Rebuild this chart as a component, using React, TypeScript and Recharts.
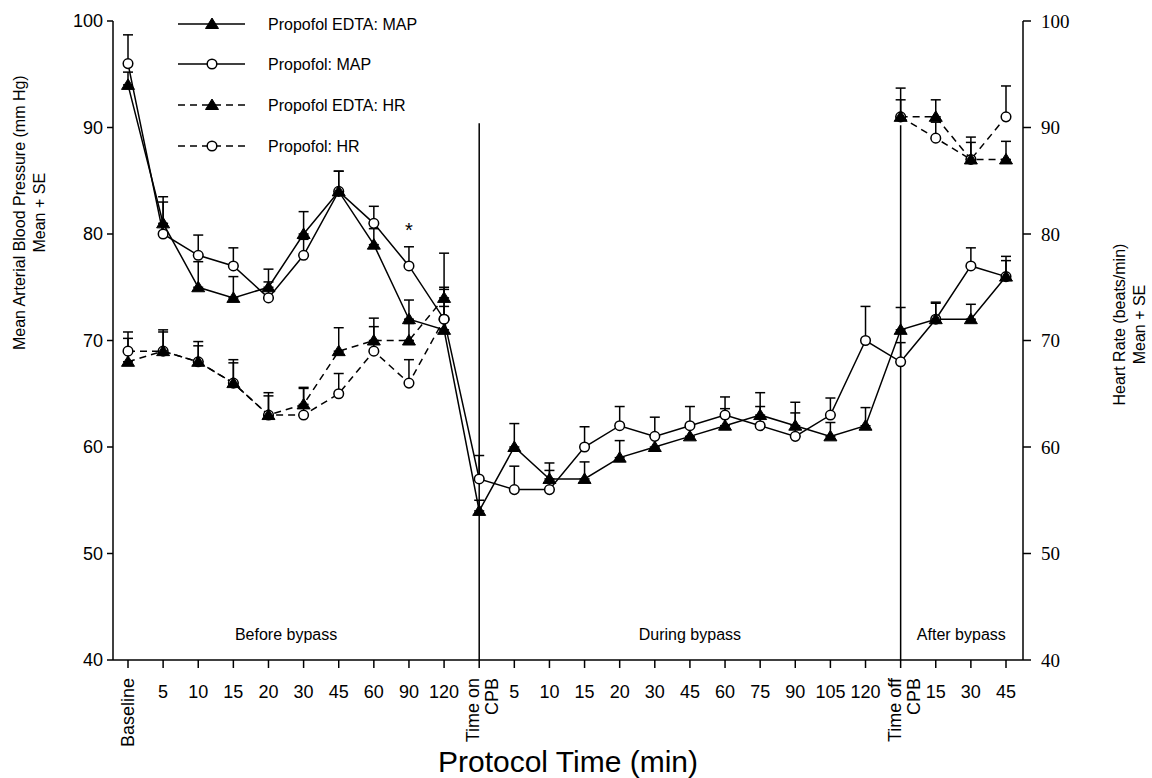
import React from 'react';
import {
  LineChart, Line, XAxis, YAxis, ErrorBar, ReferenceLine, ReferenceArea, Legend, LabelList,
} from 'recharts';

// ---- categories / tick labels ----
const categoryKeys = [
  'Baseline', 'b5', 'b10', 'b15', 'b20', 'b30', 'b45', 'b60', 'b90', 'b120',
  'TimeOn', 'd5', 'd10', 'd15', 'd20', 'd30', 'd45', 'd60', 'd75', 'd90', 'd105', 'd120',
  'TimeOff', 'a15', 'a30', 'a45',
];
const tickLabels = [
  'Baseline', '5', '10', '15', '20', '30', '45', '60', '90', '120',
  'Time on|CPB', '5', '10', '15', '20', '30', '45', '60', '75', '90', '105', '120',
  'Time off|CPB', '15', '30', '45',
];
const yTicks = [40, 50, 60, 70, 80, 90, 100];

// ---- series values (mean) and SE ----
const edtaMap = [94, 81, 75, 74, 75, 80, 84, 79, 72, 71, 54, 60, 57, 57, 59, 60, 61, 62, 63, 62, 61, 62, 71, 72, 72, 76];
const edtaMapSe = [1.2, 2.5, 2.4, 2.0, 1.7, 2.1, 1.9, 1.5, 1.8, 4.0, 1.0, 2.2, 1.5, 1.6, 1.6, 1.0, 1.0, 1.6, 2.1, 2.2, 1.3, 1.7, 2.1, 1.6, 1.4, 1.5];
const propMap = [96, 80, 78, 77, 74, 78, 84, 81, 77, 72, 57, 56, 56, 60, 62, 61, 62, 63, 62, 61, 63, 70, 68, 72, 77, 76];
const propMapSe = [2.7, 3.0, 1.9, 1.7, 1.5, 1.5, 1.9, 1.6, 1.8, 2.8, 2.2, 2.2, 1.8, 1.9, 1.8, 1.8, 1.8, 1.7, 1.8, 2.2, 1.6, 3.2, 1.8, 1.5, 1.7, 1.9];
const edtaHr = [68, 69, 68, 66, 63, 64, 69, 70, 70, 74, null, null, null, null, null, null, null, null, null, null, null, null, 91, 91, 87, 87];
const edtaHrSe = [2.2, 2.0, 1.9, 2.2, 2.1, 1.5, 2.2, 2.1, 1.6, 4.2, null, null, null, null, null, null, null, null, null, null, null, null, 2.7, 1.6, 2.1, 1.7];
const propHr = [69, 69, 68, 66, 63, 63, 65, 69, 66, 72, null, null, null, null, null, null, null, null, null, null, null, null, 91, 89, 87, 91];
const propHrSe = [1.8, 1.8, 1.5, 1.9, 1.8, 2.6, 1.9, 2.3, 2.2, 1.2, null, null, null, null, null, null, null, null, null, null, null, null, 1.6, 1.5, 1.6, 2.9];
const propMapSig = ['', '', '', '', '', '', '', '', '*', '', '', '', '', '', '', '', '', '', '', '', '', '', '', '', '', ''];

const seriesNames = ['Propofol EDTA: MAP', 'Propofol: MAP', 'Propofol EDTA: HR', 'Propofol: HR'];
const phaseLabels = ['Before bypass', 'During bypass', 'After bypass'];

const errPair = (se: number | null) => (se == null ? null : [0, se]);

const data = categoryKeys.map((key, i) => ({
  key,
  edtaMap: edtaMap[i],
  edtaMapErr: errPair(edtaMapSe[i]),
  propMap: propMap[i],
  propMapErr: errPair(propMapSe[i]),
  edtaHr: edtaHr[i],
  edtaHrErr: errPair(edtaHrSe[i]),
  propHr: propHr[i],
  propHrErr: errPair(propHrSe[i]),
  sig: propMapSig[i],
}));

const SANS = 'Arial, "Liberation Sans", Helvetica, sans-serif';
const SERIF = '"Times New Roman", "Liberation Serif", Times, serif';
const INK = '#000';

const Triangle = (props: any) => {
  const { cx, cy } = props;
  if (cx == null || cy == null || props.value == null) return null;
  return (
    <polygon
      points={`${cx},${cy - 6} ${cx + 6.5},${cy + 4.5} ${cx - 6.5},${cy + 4.5}`}
      fill={INK}
      stroke={INK}
      strokeWidth={1}
    />
  );
};

const Circle = (props: any) => {
  const { cx, cy } = props;
  if (cx == null || cy == null || props.value == null) return null;
  return <circle cx={cx} cy={cy} r={4.8} fill="#fff" stroke={INK} strokeWidth={1.5} />;
};

const XTick = (props: any) => {
  const { x, y, index } = props;
  const label = tickLabels[index] ?? '';
  if (label === 'Baseline') {
    const ty = y + 8;
    return (
      <text x={x} y={ty} transform={`rotate(-90, ${x}, ${ty})`} textAnchor="end"
        dominantBaseline="central" fontFamily={SANS} fontSize={18} fill={INK}>
        {label}
      </text>
    );
  }
  if (label.includes('|')) {
    const [l1, l2] = label.split('|');
    const ty = y + 8;
    return (
      <g>
        <text x={x - 6} y={ty} transform={`rotate(-90, ${x - 6}, ${ty})`} textAnchor="end"
          dominantBaseline="central" fontFamily={SANS} fontSize={18} fill={INK}>{l1}</text>
        <text x={x + 13} y={ty} transform={`rotate(-90, ${x + 13}, ${ty})`} textAnchor="end"
          dominantBaseline="central" fontFamily={SANS} fontSize={18} fill={INK}>{l2}</text>
      </g>
    );
  }
  return (
    <text x={x} y={y + 22} textAnchor="middle" dominantBaseline="central"
      fontFamily={SANS} fontSize={18} fill={INK}>
      {label}
    </text>
  );
};

const LeftTitle = (props: any) => {
  const vb = props.viewBox || {};
  const cy = vb.y + vb.height * 0.3;
  return (
    <g>
      <text x={20} y={cy} transform={`rotate(-90, 20, ${cy})`} textAnchor="middle"
        dominantBaseline="central" fontFamily={SANS} fontSize={16} fill={INK}>
        Mean Arterial Blood Pressure (mm Hg)
      </text>
      <text x={40} y={cy} transform={`rotate(-90, 40, ${cy})`} textAnchor="middle"
        dominantBaseline="central" fontFamily={SANS} fontSize={16} fill={INK}>
        Mean + SE
      </text>
    </g>
  );
};

const RightTitle = (props: any) => {
  const vb = props.viewBox || {};
  const cy = vb.y + vb.height * 0.475;
  return (
    <g>
      <text x={1120} y={cy} transform={`rotate(-90, 1120, ${cy})`} textAnchor="middle"
        dominantBaseline="central" fontFamily={SANS} fontSize={16} fill={INK}>
        Heart Rate (beats/min)
      </text>
      <text x={1140} y={cy} transform={`rotate(-90, 1140, ${cy})`} textAnchor="middle"
        dominantBaseline="central" fontFamily={SANS} fontSize={16} fill={INK}>
        Mean + SE
      </text>
    </g>
  );
};

const LegendContent = () => {
  const rows = [24, 64, 105, 146];
  const styles = [
    { dash: undefined, marker: 'tri' },
    { dash: undefined, marker: 'circ' },
    { dash: '7 5', marker: 'tri' },
    { dash: '7 5', marker: 'circ' },
  ];
  return (
    <svg width={300} height={170} style={{ display: 'block' }}>
      {seriesNames.map((name, i) => {
        const y = rows[i];
        const s = styles[i];
        return (
          <g key={name}>
            <line x1={8} y1={y} x2={75} y2={y} stroke={INK} strokeWidth={1.5} strokeDasharray={s.dash} />
            {s.marker === 'tri'
              ? <Triangle cx={42} cy={y} value={1} />
              : <Circle cx={42} cy={y} value={1} />}
            <text x={98} y={y} dominantBaseline="central" fontFamily={SANS} fontSize={16} fill={INK}>{name}</text>
          </g>
        );
      })}
    </svg>
  );
};

const PhaseLabel = (props: any) => {
  const { viewBox, value, dx = 0 } = props;
  if (!viewBox) return null;
  return (
    <text x={viewBox.x + viewBox.width / 2 + dx} y={viewBox.y + viewBox.height / 2}
      textAnchor="middle" dominantBaseline="central" fontFamily={SANS} fontSize={16} fill={INK}>
      {value}
    </text>
  );
};

const SigLabel = (props: any) => {
  const { x, y, value } = props;
  if (!value) return null;
  return (
    <text x={x} y={y - 36} textAnchor="middle" dominantBaseline="central"
      fontFamily={SANS} fontSize={20} fill={INK}>{value}</text>
  );
};

export default function App() {
  return (
    <div style={{ position: 'absolute', left: 0, top: 0, width: 1152, height: 778, background: '#fff' }}>
      <LineChart width={1152} height={778} data={data}
        margin={{ top: 21, right: 0, bottom: 0, left: 0 }}>
        <XAxis dataKey="key" interval={0} tick={<XTick />} tickSize={8} tickMargin={2}
          height={118} padding={{ left: 15, right: 17 }}
          axisLine={{ stroke: INK, strokeWidth: 1.5 }} tickLine={{ stroke: INK, strokeWidth: 1.5 }}
          label={{ value: 'Protocol Time (min)', position: 'insideBottom', offset: 6,
            style: { fontFamily: SANS, fontSize: 30, fill: INK } }} />
        <YAxis yAxisId="map" domain={[40, 100]} ticks={yTicks} width={113} tickSize={6} tickMargin={4}
          axisLine={{ stroke: INK, strokeWidth: 1.5 }} tickLine={{ stroke: INK, strokeWidth: 1.5 }}
          tick={{ fontFamily: SANS, fontSize: 18, fill: INK }} allowDataOverflow
          label={<LeftTitle />} />
        <YAxis yAxisId="hr" orientation="right" domain={[40, 100]} ticks={yTicks} width={129}
          tickSize={8} tickMargin={10}
          axisLine={{ stroke: INK, strokeWidth: 1.5 }} tickLine={{ stroke: INK, strokeWidth: 1.5 }}
          tick={{ fontFamily: SERIF, fontSize: 19, fill: INK }} allowDataOverflow
          label={<RightTitle />} />

        <ReferenceLine yAxisId="map" segment={[{ x: 'TimeOn', y: 90.4 }, { x: 'TimeOn', y: 40 }]}
          stroke={INK} strokeWidth={1.5} />
        <ReferenceLine yAxisId="map" segment={[{ x: 'TimeOff', y: 90.2 }, { x: 'TimeOff', y: 40 }]}
          stroke={INK} strokeWidth={1.5} />

        <ReferenceArea yAxisId="map" x1="Baseline" x2="b120" y1={40} y2={44.8} fill="none" stroke="none"
          label={<PhaseLabel value={phaseLabels[0]} />} />
        <ReferenceArea yAxisId="map" x1="TimeOn" x2="TimeOff" y1={40} y2={44.8} fill="none" stroke="none"
          label={<PhaseLabel value={phaseLabels[1]} />} />
        <ReferenceArea yAxisId="map" x1="TimeOff" x2="a45" y1={40} y2={44.8} fill="none" stroke="none"
          label={<PhaseLabel value={phaseLabels[2]} dx={8} />} />

        <Line yAxisId="hr" dataKey="propHr" name={seriesNames[3]} stroke={INK} strokeWidth={1.5}
          strokeDasharray="7 5" dot={<Circle />} activeDot={false} isAnimationActive={false} type="linear">
          <ErrorBar dataKey="propHrErr" direction="y" width={5} stroke={INK} strokeWidth={1.5} />
        </Line>
        <Line yAxisId="map" dataKey="propMap" name={seriesNames[1]} stroke={INK} strokeWidth={1.5}
          dot={<Circle />} activeDot={false} isAnimationActive={false} type="linear">
          <ErrorBar dataKey="propMapErr" direction="y" width={5} stroke={INK} strokeWidth={1.5} />
          <LabelList dataKey="sig" content={<SigLabel />} />
        </Line>
        <Line yAxisId="hr" dataKey="edtaHr" name={seriesNames[2]} stroke={INK} strokeWidth={1.5}
          strokeDasharray="7 5" dot={<Triangle />} activeDot={false} isAnimationActive={false} type="linear">
          <ErrorBar dataKey="edtaHrErr" direction="y" width={5} stroke={INK} strokeWidth={1.5} />
        </Line>
        <Line yAxisId="map" dataKey="edtaMap" name={seriesNames[0]} stroke={INK} strokeWidth={1.5}
          dot={<Triangle />} activeDot={false} isAnimationActive={false} type="linear">
          <ErrorBar dataKey="edtaMapErr" direction="y" width={5} stroke={INK} strokeWidth={1.5} />
        </Line>

        <Legend layout="vertical" align="center" verticalAlign="middle" content={<LegendContent />}
          wrapperStyle={{ position: 'absolute', left: 170, top: 0, width: 300, height: 170 }} />
      </LineChart>
    </div>
  );
}
